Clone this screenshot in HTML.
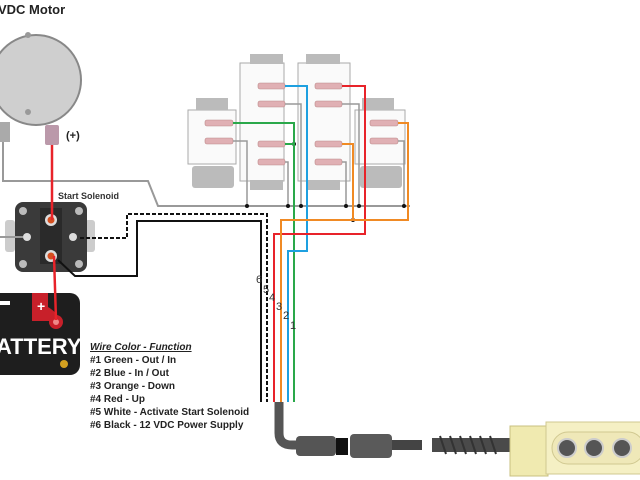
<!DOCTYPE html>
<html><head><meta charset="utf-8"><style>
body{margin:0;background:#fff;width:640px;height:480px;overflow:hidden;font-family:"Liberation Sans",sans-serif}
svg{display:block}
</style></head><body>
<svg width="640" height="480" viewBox="0 0 640 480" xmlns="http://www.w3.org/2000/svg" font-family="Liberation Sans, sans-serif">
<!-- motor -->
<text x="-2" y="14" font-size="13" font-weight="bold" fill="#222">VDC Motor</text>
<circle cx="36" cy="80" r="45" fill="#cfcfcf" stroke="#888" stroke-width="2"/>
<circle cx="28" cy="35" r="3" fill="#999"/><circle cx="28" cy="112" r="3" fill="#999"/>
<rect x="0" y="122" width="10" height="20" fill="#aaa"/>
<rect x="45" y="125" width="14" height="20" fill="#b9a" rx="2"/>
<text x="66" y="139" font-size="11" font-weight="bold" fill="#222">(+)</text>
<!-- gray wire from motor -->
<polyline points="3,142 3,181 148,181 158,206 410,206" fill="none" stroke="#999" stroke-width="2"/>
<!-- solenoid -->
<text x="58" y="199" font-size="9" font-weight="bold" fill="#333">Start Solenoid</text>
<rect x="5" y="220" width="10" height="32" fill="#ccc" rx="3"/>
<rect x="85" y="220" width="10" height="32" fill="#ccc" rx="3"/>
<rect x="15" y="202" width="72" height="70" rx="8" fill="#3a3a3a"/>
<rect x="40" y="208" width="22" height="56" fill="#2a2a2a"/>
<circle cx="23" cy="211" r="4" fill="#bbb"/><circle cx="79" cy="211" r="4" fill="#bbb"/>
<circle cx="23" cy="264" r="4" fill="#bbb"/><circle cx="79" cy="264" r="4" fill="#bbb"/>
<circle cx="27" cy="237" r="4" fill="#ddd"/><circle cx="73" cy="237" r="4" fill="#ddd"/>
<circle cx="51" cy="220" r="6" fill="#ddd"/><circle cx="51" cy="220" r="3.5" fill="#d55020"/>
<circle cx="51" cy="256" r="6" fill="#ddd"/><circle cx="51" cy="256" r="3.5" fill="#d55020"/>
<line x1="0" y1="237" x2="23" y2="237" stroke="#999" stroke-width="2"/>
<!-- battery -->
<rect x="-10" y="293" width="90" height="82" rx="10" fill="#1e1e1e"/>
<path d="M32,293 h16 v14 q10,6 12,14 h-28z" fill="#c8202a"/>
<circle cx="56" cy="322" r="7" fill="#c8202a"/><circle cx="56" cy="322" r="3" fill="#e88"/>
<text x="37" y="311" font-size="14" font-weight="bold" fill="#fff">+</text>
<rect x="-2" y="301" width="12" height="4" fill="#fff"/>
<text x="-4" y="354" font-size="22" font-weight="bold" fill="#fff">ATTERY</text>
<circle cx="64" cy="364" r="4" fill="#d4a020"/>
<!-- red power -->
<polyline points="52,145 52,220" fill="none" stroke="#e8232a" stroke-width="2.5"/>
<polyline points="54,256 56,320" fill="none" stroke="#e8232a" stroke-width="2.5"/>
<!-- black & dashed -->
<polyline points="58,260 75,276 137,276 137,221 261,221 261,402" fill="none" stroke="#111" stroke-width="2"/>
<polyline points="80,238 127,238 127,214 267,214 267,402" fill="none" stroke="#111" stroke-width="2" stroke-dasharray="4,2"/>
<!-- solenoid blocks -->
<g stroke="#aaa" stroke-width="1" fill="#fafafa">
<rect x="240" y="63" width="44" height="118"/>
<rect x="298" y="63" width="52" height="118"/>
<rect x="188" y="110" width="48" height="54"/>
<rect x="355" y="110" width="50" height="54"/>
</g>
<g fill="#bbb">
<rect x="250" y="54" width="33" height="10"/><rect x="306" y="54" width="34" height="10"/>
<rect x="196" y="98" width="32" height="12"/><rect x="362" y="98" width="32" height="12"/>
<rect x="192" y="166" width="42" height="22" rx="3"/><rect x="360" y="166" width="42" height="22" rx="3"/>
<rect x="250" y="180" width="33" height="10"/><rect x="306" y="180" width="34" height="10"/>
</g>
<g fill="#e0b0b4" stroke="#b88" stroke-width="0.6">
<rect x="205" y="120" width="28" height="6" rx="2"/><rect x="205" y="138" width="28" height="6" rx="2"/>
<rect x="258" y="83" width="27" height="6" rx="2"/><rect x="258" y="101" width="27" height="6" rx="2"/>
<rect x="258" y="141" width="27" height="6" rx="2"/><rect x="258" y="159" width="27" height="6" rx="2"/>
<rect x="315" y="83" width="27" height="6" rx="2"/><rect x="315" y="101" width="27" height="6" rx="2"/>
<rect x="315" y="141" width="27" height="6" rx="2"/><rect x="315" y="159" width="27" height="6" rx="2"/>
<rect x="370" y="120" width="28" height="6" rx="2"/><rect x="370" y="138" width="28" height="6" rx="2"/>
</g>
<!-- gray pin wires -->
<g fill="none" stroke="#999" stroke-width="1.5">
<polyline points="233,141 247,141 247,206"/>
<polyline points="285,104 301,104 301,206"/>
<polyline points="285,162 288,162 288,206"/>
<polyline points="342,104 359,104 359,206"/>
<polyline points="342,162 346,162 346,206"/>
<polyline points="398,141 404,141 404,206"/>
</g>
<g fill="#111">
<circle cx="247" cy="206" r="2"/><circle cx="288" cy="206" r="2"/><circle cx="301" cy="206" r="2"/>
<circle cx="346" cy="206" r="2"/><circle cx="359" cy="206" r="2"/><circle cx="404" cy="206" r="2"/>
<circle cx="294" cy="144" r="2"/><circle cx="353" cy="220" r="2"/>
</g>
<!-- colored wires -->
<polyline points="233,123 294,123 294,402" fill="none" stroke="#2aa84a" stroke-width="2"/>
<polyline points="285,144 294,144" fill="none" stroke="#2aa84a" stroke-width="2"/>
<polyline points="285,86 307,86 307,251 288,251 288,402" fill="none" stroke="#1ea0e0" stroke-width="2"/>
<polyline points="342,86 365,86 365,234 274,234 274,402" fill="none" stroke="#e8232a" stroke-width="2"/>
<polyline points="342,144 353,144 353,220" fill="none" stroke="#f08a24" stroke-width="2"/>
<polyline points="398,123 408,123 408,220 281,220 281,402" fill="none" stroke="#f08a24" stroke-width="2"/>
<!-- numbers -->
<g font-size="11" fill="#333">
<text x="256" y="283">6</text><text x="263" y="293">5</text><text x="269" y="301">4</text>
<text x="276" y="310">3</text><text x="283" y="319">2</text><text x="290" y="329">1</text>
</g>
<!-- legend -->
<g font-size="10" font-weight="bold" fill="#222">
<text x="90" y="350" font-style="italic" text-decoration="underline">Wire Color - Function</text>
<text x="90" y="363">#1 Green - Out / In</text>
<text x="90" y="376">#2 Blue - In / Out</text>
<text x="90" y="389">#3 Orange - Down</text>
<text x="90" y="402">#4 Red - Up</text>
<text x="90" y="415">#5 White - Activate Start Solenoid</text>
<text x="90" y="428">#6 Black - 12 VDC Power Supply</text>
</g>
<!-- cable -->
<path d="M279,402 V433 Q279,445 292,445 H300" fill="none" stroke="#555" stroke-width="9"/>
<rect x="296" y="436" width="40" height="20" rx="4" fill="#555"/>
<rect x="336" y="438" width="12" height="17" fill="#111"/>
<rect x="350" y="434" width="42" height="24" rx="4" fill="#5a5a5a"/>
<rect x="392" y="440" width="30" height="10" fill="#444"/>
<rect x="432" y="438" width="80" height="14" fill="#4a4a4a"/>
<g stroke="#333" stroke-width="2"><line x1="440" y1="436" x2="446" y2="454"/><line x1="450" y1="436" x2="456" y2="454"/><line x1="460" y1="436" x2="466" y2="454"/><line x1="470" y1="436" x2="476" y2="454"/><line x1="480" y1="436" x2="486" y2="454"/><line x1="490" y1="436" x2="496" y2="454"/></g>
<!-- pendant -->
<rect x="510" y="426" width="38" height="50" fill="#f0eab0" stroke="#c8c080"/>
<rect x="546" y="422" width="100" height="52" fill="#f5f0c4" stroke="#d0c890"/>
<rect x="552" y="432" width="92" height="32" rx="16" fill="#efe8b8" stroke="#d0c890"/>
<circle cx="567" cy="448" r="9" fill="#555" stroke="#ccc" stroke-width="2"/>
<circle cx="594" cy="448" r="9" fill="#555" stroke="#ccc" stroke-width="2"/>
<circle cx="622" cy="448" r="9" fill="#555" stroke="#ccc" stroke-width="2"/>
</svg>
</body></html>
